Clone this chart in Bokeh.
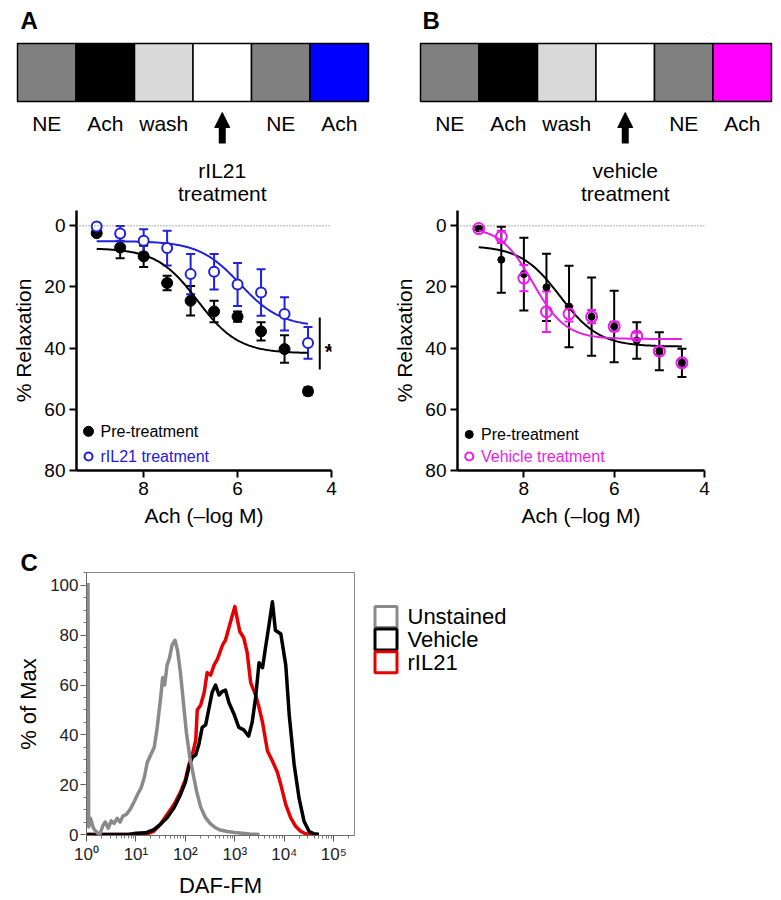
import numpy as np
from bokeh.plotting import figure
from bokeh.layouts import column, row
from bokeh.models import (ColumnDataSource, Range1d, FixedTicker, SingleIntervalTicker,
                          Whisker, TeeHead, Span, Label, Arrow, NormalHead)
from bokeh.core.properties import value
from bokeh.embed import file_html
from bokeh.resources import INLINE

FONT = "Liberation Sans"

# ---------------- data ----------------
protocol_steps = ["NE", "Ach", "wash", "", "NE", "Ach"]
protocol_colors_a = ["#808080", "#000000", "#d9d9d9", "#ffffff", "#808080", "#0000ff"]
protocol_colors_b = ["#808080", "#000000", "#d9d9d9", "#ffffff", "#808080", "#ff00ff"]
treatment_step = 3
treatment_text_a = ["rIL21", "treatment"]
treatment_text_b = ["vehicle", "treatment"]

ach_neg_log_m = [9.0, 8.5, 8.0, 7.5, 7.0, 6.5, 6.0, 5.5, 5.0, 4.5]

a_pre_mean = [2.4, 7.1, 10.0, 18.7, 24.5, 28.0, 29.7, 34.5, 40.3, 54.1]
a_pre_err = [0.8, 3.5, 3.5, 2.4, 4.8, 3.5, 1.7, 3.0, 4.5, 1.3]
a_ril_mean = [0.2, 2.5, 4.9, 7.3, 15.8, 15.0, 19.2, 21.8, 28.8, 38.3]
a_ril_err = [0.3, 2.4, 3.8, 5.7, 6.6, 5.8, 7.0, 7.6, 5.4, 5.2]

b_pre_mean = [0.9, 11.1, 15.8, 20.1, 26.4, 29.7, 32.9, 37.5, 41.0, 44.8]
b_pre_err = [0.5, 10.8, 11.9, 11.0, 13.3, 12.8, 11.7, 6.0, 6.2, 4.6]
b_veh_mean = [0.9, 3.6, 17.1, 28.1, 28.8, 29.7, 32.9, 36.0, 41.0, 44.8]
b_veh_err = [0.3, 2.0, 4.3, 6.6, 2.5, 2.2, 1.5, 1.0, 1.0, 1.0]

# fitted 4-parameter logistic curves: bottom, top, logEC50 (-log M), hill slope
a_pre_fit = [7.3, 41.7, 6.85, 1.0]
a_ril_fit = [5.0, 33.0, 5.95, 1.0]
b_pre_fit = [6.5, 39.5, 7.2, 1.0]
b_veh_fit = [0.3, 37.0, 7.8, 1.2]

legend_a = ["Pre-treatment", "rIL21 treatment"]
legend_b = ["Pre-treatment", "Vehicle treatment"]

# flow cytometry histograms (log10 DAF-FM, % of max)
unstained_log = [0.03, 0.045, 0.08, 0.14, 0.2, 0.27, 0.33, 0.38, 0.44, 0.5, 0.56, 0.62, 0.68,
                 0.74, 0.8, 0.88, 0.96, 1.03, 1.1, 1.17, 1.23, 1.3, 1.37, 1.43, 1.5, 1.54,
                 1.58, 1.63, 1.68, 1.73, 1.79, 1.84, 1.9, 1.96, 2.02, 2.09, 2.16, 2.23, 2.31,
                 2.4, 2.5, 2.6, 2.7, 2.85, 3.0, 3.15, 3.3, 3.5]
unstained_pct = [101, 3, 6.5, 2.5, 1, 0, 3.5, 5, 2.5, 5.5, 4.5, 6.5, 5,
                 7.5, 8, 10, 13, 16, 18.5, 23, 29, 32, 35, 43, 55, 63,
                 60, 68, 71, 76, 78, 74, 65, 53, 41, 31, 24, 17, 11,
                 7, 4.5, 2.8, 1.8, 1.2, 0.8, 0.5, 0.2, 0]

ril21_log = [0.0, 0.9, 1.1, 1.25, 1.36, 1.49, 1.63, 1.77, 1.9, 2.0, 2.07, 2.14, 2.21, 2.24,
             2.31, 2.38, 2.44, 2.51, 2.58, 2.65, 2.75, 2.81, 2.88, 2.95, 3.0, 3.05, 3.1,
             3.18, 3.25, 3.32, 3.42, 3.49, 3.56, 3.66, 3.76, 3.86, 3.93, 4.03, 4.13, 4.23,
             4.33, 4.43, 4.5, 4.7]
ril21_pct = [0, 0, 0.3, 0.5, 1.3, 4, 8, 12, 17, 22, 28, 32, 38, 50,
             52, 57, 65, 64, 68, 70.5, 76, 78, 83, 88, 91.5, 86.5, 81.5,
             79, 73, 61, 56, 51, 45, 33.5, 29.5, 25, 20, 12, 6.7, 3.3,
             1.3, 0.3, 0, 0]

vehicle_log = [0.0, 0.85, 1.0, 1.2, 1.36, 1.49, 1.63, 1.77, 1.9, 2.0, 2.07, 2.14, 2.21, 2.27,
               2.34, 2.41, 2.47, 2.54, 2.61, 2.68, 2.75, 2.81, 2.88, 2.98, 3.08, 3.18, 3.28,
               3.35, 3.42, 3.49, 3.56, 3.62, 3.69, 3.76, 3.82, 3.93, 4.03, 4.1, 4.2, 4.3,
               4.4, 4.5, 4.6, 4.7]
vehicle_pct = [0, 0, 0.5, 0.7, 2, 4, 6.7, 10.7, 16, 21, 27, 31, 32, 36,
               43, 44, 50, 57, 60, 56, 57.5, 58, 53, 48.5, 43, 42, 39.5,
               45, 55, 69, 67, 75, 84, 93.5, 82, 80.5, 68, 48, 28, 14.5,
               5.3, 1.3, 0.3, 0]

legend_c_names = ["Unstained", "Vehicle", "rIL21"]
legend_c_colors = ["#8a8a8a", "#000000", "#e60000"]

c_x_major = [1, 10, 100, 1000, 10000, 100000]
c_x_labels = ["10\u2070", "10\u00b9", "10\u00b2", "10\u00b3", "10\u2074", "10\u2075"]

BLUE = "#2020dd"
MAGENTA = "#e81ee8"


def four_pl(x, p):
    bottom, top, logec, hill = p
    return bottom + (top - bottom) / (1.0 + 10 ** ((x - logec) * hill))


def base_fig(**kw):
    p = figure(output_backend="svg", toolbar_location=None, **kw)
    p.background_fill_color = "white"
    p.border_fill_color = "white"
    p.grid.grid_line_color = None
    return p


# ---------------- schematics ----------------
def schematic(colors, treat_text, letter, x0, x1, letter_x, width):
    p = base_fig(width=width, height=210, x_range=Range1d(x0, x1),
                 y_range=Range1d(-1.879, 1.741), min_border=0,
                 x_axis_location=None, y_axis_location=None)
    p.outline_line_color = None
    idx = list(range(len(protocol_steps)))
    p.quad(left=idx, right=[i + 1 for i in idx], bottom=0, top=1,
           fill_color=colors, line_color="black", line_width=1.5)
    p.text(x=[i + 0.5 for i in idx], y=[-0.379] * len(idx), text=protocol_steps,
           text_font=value(FONT), text_font_size="21px", text_color="black",
           text_align="center", text_baseline="middle")
    p.text(x=[treatment_step + 0.5] * 2, y=[-1.19, -1.586], text=treat_text,
           text_font=value(FONT), text_font_size="21px", text_color="black",
           text_align="center", text_baseline="middle")
    p.text(x=[letter_x], y=[1.397], text=[letter], text_font=value(FONT),
           text_font_size="24px", text_font_style="bold", text_color="black",
           text_align="left", text_baseline="middle")
    p.add_layout(Arrow(end=NormalHead(size=15, fill_color="black", line_color="black"),
                       x_start=treatment_step + 0.5, y_start=-0.724,
                       x_end=treatment_step + 0.5, y_end=-0.19,
                       line_width=7, line_color="black"))
    return p


sA = schematic(protocol_colors_a, treatment_text_a, "A", -0.291, 6.376, 0.051, 390)
sB = schematic(protocol_colors_b, treatment_text_b, "B", -0.513, 6.171, 0.034, 391)


# ---------------- dose-response plots ----------------
def style_dose_axes(p):
    p.outline_line_color = None
    for ax in (p.xaxis[0], p.yaxis[0]):
        ax.axis_line_width = 2.5
        ax.axis_line_color = "black"
        ax.major_tick_line_width = 2
        ax.major_tick_line_color = "black"
        ax.major_tick_out = 7
        ax.major_tick_in = 0
        ax.minor_tick_line_color = None
        ax.major_label_text_font = FONT
        ax.major_label_text_font_size = "19px"
        ax.major_label_text_color = "black"
        ax.axis_label_text_font = FONT
        ax.axis_label_text_font_size = "21px"
        ax.axis_label_text_font_style = "normal"
        ax.axis_label_text_color = "black"
    p.yaxis[0].ticker = FixedTicker(ticks=[0, 20, 40, 60, 80])
    p.xaxis[0].ticker = FixedTicker(ticks=[8, 6, 4])
    p.yaxis[0].major_label_standoff = 4
    p.yaxis[0].axis_label_standoff = 6
    p.xaxis[0].major_label_standoff = 4
    p.xaxis[0].axis_label_standoff = 6
    p.xaxis[0].axis_label = "Ach (\u2013log M)"
    p.yaxis[0].axis_label = "% Relaxation"
    p.add_layout(Span(location=0, dimension="width", line_color="#666666",
                      line_dash="1 2", line_width=1))


def add_series(p, mean, err, color, fill, size, lw, marker_line):
    src = ColumnDataSource(dict(x=ach_neg_log_m, y=mean,
                                upper=[m + e for m, e in zip(mean, err)],
                                lower=[m - e for m, e in zip(mean, err)]))
    p.add_layout(Whisker(source=src, base="x", upper="upper", lower="lower",
                         line_color=color, line_width=lw,
                         upper_head=TeeHead(size=9, line_color=color, line_width=lw),
                         lower_head=TeeHead(size=9, line_color=color, line_width=lw)))
    p.scatter("x", "y", source=src, size=size, fill_color=fill, line_color=color,
              line_width=marker_line)


curve_x = np.linspace(9.0, 4.5, 200)

pA = base_fig(width=390, height=335, x_range=Range1d(9.43, 4.0), y_range=Range1d(80, -5),
              min_border_left=76, min_border_right=59, min_border_top=0, min_border_bottom=75)
style_dose_axes(pA)
add_series(pA, a_pre_mean, a_pre_err, "black", "black", 11, 2, 1)
pA.line(curve_x, four_pl(curve_x, a_pre_fit), line_color="black", line_width=2)
pA.line(curve_x, four_pl(curve_x, a_ril_fit), line_color=BLUE, line_width=2)
add_series(pA, a_ril_mean, a_ril_err, BLUE, "white", 10, 2, 2)
pA.segment(x0=[4.25], y0=[30], x1=[4.25], y1=[47], line_color="black", line_width=2)
pA.add_layout(Label(x=4.05, y=41.0, text="*", text_font=FONT, text_font_size="22px",
                    text_font_style="bold", text_align="center", text_baseline="middle",
                    text_color="black"))
# legend
pA.scatter(x=[9.174], y=[67.2], size=10, fill_color="black", line_color="black")
pA.scatter(x=[9.174], y=[75.4], size=8, fill_color="white", line_color=BLUE, line_width=2)
pA.text(x=[8.919], y=[67.2], text=[legend_a[0]], text_font=value(FONT), text_font_size="16px",
        text_color="black", text_baseline="middle", text_align="left")
pA.text(x=[8.919], y=[75.4], text=[legend_a[1]], text_font=value(FONT), text_font_size="16px",
        text_color=BLUE, text_baseline="middle", text_align="left")

pB = base_fig(width=391, height=335, x_range=Range1d(9.47, 4.0), y_range=Range1d(80, -5),
              min_border_left=61, min_border_right=77, min_border_top=0, min_border_bottom=75)
style_dose_axes(pB)
add_series(pB, b_pre_mean, b_pre_err, "black", "black", 7, 2, 1)
pB.line(curve_x, four_pl(curve_x, b_pre_fit), line_color="black", line_width=2)
pB.line(curve_x, four_pl(curve_x, b_veh_fit), line_color=MAGENTA, line_width=2)
add_series(pB, b_veh_mean, b_veh_err, MAGENTA, None, 11, 2, 2)
pB.scatter(x=[9.21], y=[68.2], size=8, fill_color="black", line_color="black")
pB.scatter(x=[9.21], y=[75.4], size=8, fill_color=None, line_color=MAGENTA, line_width=2)
pB.text(x=[8.95], y=[68.2], text=[legend_b[0]], text_font=value(FONT), text_font_size="16px",
        text_color="black", text_baseline="middle", text_align="left")
pB.text(x=[8.95], y=[75.4], text=[legend_b[1]], text_font=value(FONT), text_font_size="16px",
        text_color=MAGENTA, text_baseline="middle", text_align="left")

# ---------------- flow histogram ----------------
pC = base_fig(width=360, height=355, x_axis_type="log", x_range=Range1d(1, 10 ** 5.42),
              y_range=Range1d(-0.4, 105.2), min_border_left=86, min_border_right=6,
              min_border_top=27, min_border_bottom=64)
pC.title.text = "C"
pC.title.align = "left"
pC.title.offset = -66
pC.title.standoff = -6
pC.title.text_font = FONT
pC.title.text_font_size = "24px"
pC.title.text_font_style = "bold"
pC.title.text_color = "black"
pC.outline_line_color = "#8a8a8a"
pC.outline_line_width = 1
minor = [m * 10 ** d for d in range(0, 6) for m in range(2, 10) if m * 10 ** d < 10 ** 5.42]
pC.xaxis[0].ticker = FixedTicker(ticks=c_x_major, minor_ticks=minor)
pC.xaxis[0].major_label_overrides = {float(t): lab for t, lab in zip(c_x_major, c_x_labels)}
pC.yaxis[0].ticker = SingleIntervalTicker(interval=20, num_minor_ticks=4)
for ax in (pC.xaxis[0], pC.yaxis[0]):
    ax.axis_line_color = "#6a6a6a"
    ax.axis_line_width = 1
    ax.major_tick_line_color = "#555555"
    ax.minor_tick_line_color = "#777777"
    ax.major_tick_out = 6
    ax.major_tick_in = 0
    ax.minor_tick_out = 3
    ax.minor_tick_in = 0
    ax.major_label_text_font = FONT
    ax.major_label_text_font_size = "17px"
    ax.major_label_text_color = "#222222"
    ax.axis_label_text_font = FONT
    ax.axis_label_text_font_size = "22px"
    ax.axis_label_text_font_style = "normal"
    ax.axis_label_text_color = "black"
pC.yaxis[0].major_label_standoff = 2
pC.yaxis[0].axis_label_standoff = 6
pC.xaxis[0].major_label_standoff = 3
pC.xaxis[0].axis_label_standoff = 6
pC.xaxis[0].axis_label = "DAF-FM"
pC.yaxis[0].axis_label = "% of Max"

pC.line([10 ** v for v in ril21_log], ril21_pct, line_color=legend_c_colors[2],
        line_width=3.5, line_join="round")
pC.line([10 ** v for v in vehicle_log], vehicle_pct, line_color=legend_c_colors[1],
        line_width=3.5, line_join="round")
pC.line([10 ** v for v in unstained_log], unstained_pct, line_color=legend_c_colors[0],
        line_width=3.5, line_join="round")

pL = base_fig(width=421, height=355, x_range=Range1d(0, 421), y_range=Range1d(9.672, -1.967),
              min_border=0, x_axis_location=None, y_axis_location=None)
pL.outline_line_color = None
rows_idx = list(range(len(legend_c_names)))
pL.rect(x=[25.5] * 3, y=rows_idx, width=22, height=21, width_units="screen",
        height_units="screen", fill_color=None, line_color=legend_c_colors, line_width=3)
pL.text(x=[47] * 3, y=rows_idx, text=legend_c_names, text_font=value(FONT),
        text_font_size="22px", text_color="black", text_baseline="middle", text_align="left")

layout = column(row(sA, sB), row(pA, pB), row(pC, pL))

with open("out.html", "w") as f:
    f.write(file_html(layout, INLINE))
